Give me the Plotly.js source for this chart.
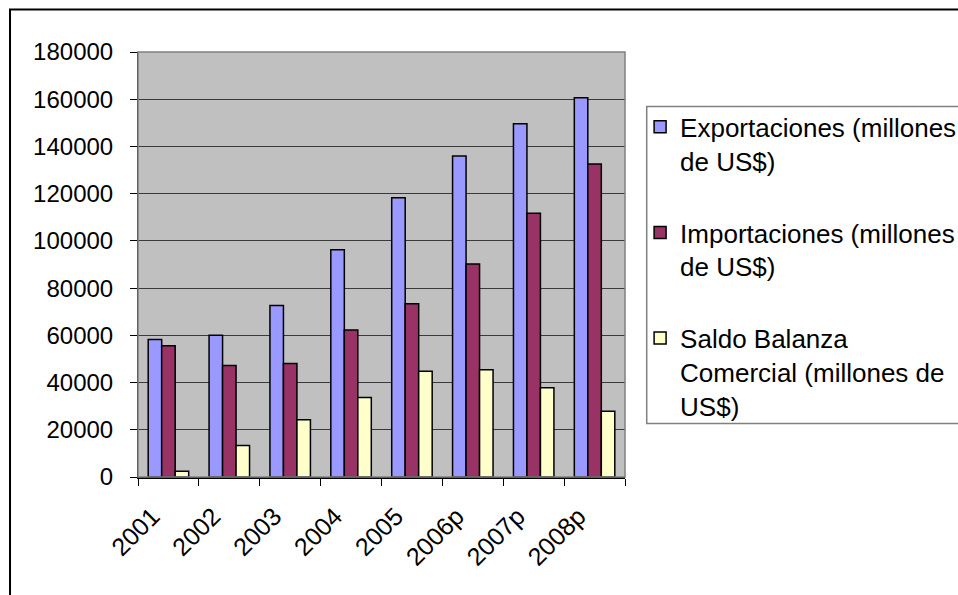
<!DOCTYPE html>
<html>
<head>
<meta charset="utf-8">
<script src="https://cdn.plot.ly/plotly-3.0.1.min.js"></script>
<style>
  html, body { margin: 0; padding: 0; background: #ffffff; overflow: hidden; }
  #chart { width: 958px; height: 595px; }
</style>
</head>
<body>
<div id="chart"></div>
<script>
// Comercio exterior: exportaciones, importaciones y saldo (millones de US$)
const years = ['2001', '2002', '2003', '2004', '2005', '2006p', '2007p', '2008p'];
const exportaciones = [58200, 60000, 72600, 96200, 118300, 136000, 149600, 160600];
const importaciones = [55600, 47200, 48100, 62300, 73400, 90200, 111700, 132600];
const saldo = [2400, 13300, 24300, 33700, 44800, 45400, 37800, 27900];

const seriesNames = [
  'Exportaciones (millones<br>de US$)',
  'Importaciones (millones<br>de US$)',
  'Saldo Balanza<br>Comercial (millones de<br>US$)'
];
const seriesColors = ['#9999ff', '#993366', '#ffffcc'];
const seriesValues = [exportaciones, importaciones, saldo];

const FONT = 'Liberation Sans, Arial, sans-serif';

const traces = seriesValues.map((vals, i) => ({
  type: 'bar',
  name: seriesNames[i],
  x: years,
  y: vals,
  legendgroup: 'g' + i,
  marker: { color: seriesColors[i], line: { color: '#000000', width: 1.5 } },
  hoverinfo: 'x+y'
}));

const layout = {
  width: 958,
  height: 595,
  margin: { l: 138, r: 333, t: 52, b: 118, autoexpand: false },
  paper_bgcolor: '#ffffff',
  plot_bgcolor: '#c0c0c0',
  font: { family: FONT, color: '#000000', size: 24 },
  barmode: 'group',
  bargap: 0.335,
  bargroupgap: 0,
  showlegend: true,
  legend: {
    x: 1.031, y: 0.879, xanchor: 'left', yanchor: 'top',
    xref: 'paper', yref: 'paper',
    bgcolor: 'rgba(255,255,255,0)',
    borderwidth: 0,
    font: { family: FONT, size: 26, color: '#000000' },
    valign: 'top',
    tracegroupgap: 35,
    itemclick: false,
    itemdoubleclick: false
  },
  xaxis: {
    type: 'category',
    tickson: 'boundaries',
    ticks: 'outside',
    ticklen: 7,
    tickwidth: 1,
    tickcolor: '#000000',
    tickangle: -45,
    ticklabelstandoff: 13,
    ticklabelshift: -16,
    tickfont: { family: FONT, size: 25, color: '#000000' },
    showline: true,
    linecolor: '#000000',
    linewidth: 1.5,
    showgrid: false,
    zeroline: false,
    fixedrange: true
  },
  yaxis: {
    range: [0, 180000],
    dtick: 20000,
    tick0: 0,
    ticks: 'outside',
    ticklen: 7,
    tickwidth: 1,
    tickcolor: '#000000',
    tickformat: 'd',
    ticklabelstandoff: 12,
    tickfont: { family: FONT, size: 24, color: '#000000' },
    showline: true,
    linecolor: '#000000',
    linewidth: 1,
    showgrid: true,
    gridcolor: '#3a3a3a',
    gridwidth: 1,
    zeroline: false,
    fixedrange: true
  },
  shapes: [
    // gray frame on the top and right of the plotting area
    { type: 'rect', xref: 'paper', yref: 'paper', x0: 0, x1: 1, y0: 0, y1: 1,
      line: { color: '#808080', width: 1.5 }, fillcolor: 'rgba(0,0,0,0)', layer: 'above' },
    // legend frame
    { type: 'rect', xref: 'paper', yref: 'paper', x0: 1.0446, x1: 1.8, y0: 0.1259, y1: 0.8718,
      line: { color: '#808080', width: 1.5 }, fillcolor: 'rgba(0,0,0,0)', layer: 'above' },
    // chart outer frame
    { type: 'rect', xref: 'paper', yref: 'paper', x0: -0.2628, x1: 1.9, y0: -0.5, y1: 1.1,
      line: { color: '#000000', width: 2 }, fillcolor: 'rgba(0,0,0,0)', layer: 'above' }
  ]
};

Plotly.newPlot('chart', traces, layout, { displayModeBar: false, responsive: false });
</script>
</body>
</html>
